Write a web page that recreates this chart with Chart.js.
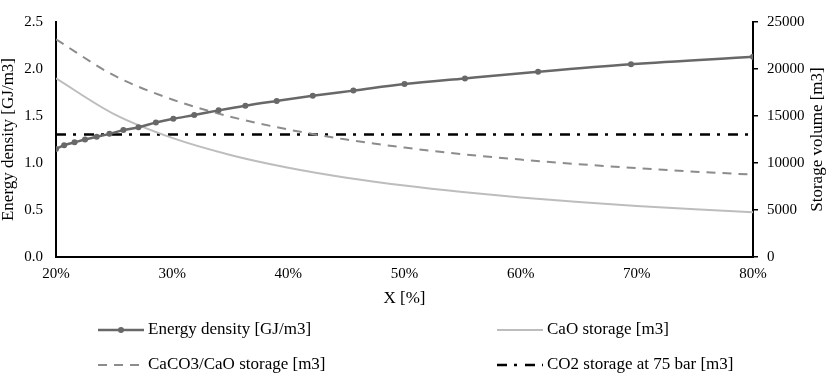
<!DOCTYPE html>
<html>
<head>
<meta charset="utf-8">
<script src="https://cdn.jsdelivr.net/npm/chart.js@4.4.1/dist/chart.umd.min.js"></script>
<style>
  html, body { margin: 0; padding: 0; background: #fff; }
  #wrap { width: 829px; height: 384px; position: relative; }
</style>
</head>
<body>
<div id="wrap"><canvas id="chartCanvas"></canvas></div>
<script>
// values
const x_ticks = [20, 30, 40, 50, 60, 70, 80];   // X [%]

// energy density markers (left axis, GJ/m3)
const energy_x = [20, 20.7, 21.6, 22.5, 23.5, 24.6, 25.8, 27.1, 28.6, 30.1, 31.9,
                  34.0, 36.3, 39.0, 42.1, 45.6, 50.0, 55.2, 61.5, 69.5, 80];
const energy_y = [1.15, 1.19, 1.22, 1.25, 1.28, 1.31, 1.35, 1.38, 1.43, 1.47, 1.51,
                  1.56, 1.61, 1.66, 1.715, 1.77, 1.84, 1.90, 1.97, 2.05, 2.13];

// storage curves (right axis, m3)
const storage_x = [20, 25, 30, 35, 40, 45, 50, 55, 60, 65, 70, 75, 80];
const cao_storage = [19000, 15200, 12670, 10860, 9500, 8440, 7600, 6910, 6330, 5850, 5430, 5070, 4750];
const caco3_storage = [23150, 19310, 16760, 14930, 13560, 12490, 11640, 10940, 10360, 9870, 9450, 9080, 8760];
const co2_x = [20, 80];
const co2_storage = [13030, 13030];

const labels = ["Energy density [GJ/m3]", "CaO storage [m3]",
                "CaCO3/CaO storage [m3]", "CO2 storage at 75 bar [m3]"];

const FONT = "'Liberation Serif', 'Times New Roman', serif";

function toPoints(xs, ys) {
    return xs.map((x, i) => ({x: x, y: ys[i]}));
}

const datasets = [
    {
        label: labels[0],
        data: toPoints(energy_x, energy_y),
        yAxisID: 'y',
        borderColor: '#686868',
        backgroundColor: '#686868',
        borderWidth: 2.5,
        pointRadius: 3,
        pointBorderWidth: 0,
        cubicInterpolationMode: 'monotone',
        order: 0
    },
    {
        label: labels[1],
        data: toPoints(storage_x, cao_storage),
        yAxisID: 'y2',
        borderColor: '#bdbdbd',
        borderWidth: 2,
        pointRadius: 0,
        cubicInterpolationMode: 'monotone',
        order: 1
    },
    {
        label: labels[2],
        data: toPoints(storage_x, caco3_storage),
        yAxisID: 'y2',
        borderColor: '#8c8c8c',
        borderWidth: 2,
        borderDash: [9, 7],
        pointRadius: 0,
        cubicInterpolationMode: 'monotone',
        order: 2
    },
    {
        label: labels[3],
        data: toPoints(co2_x, co2_storage),
        yAxisID: 'y2',
        borderColor: '#000000',
        borderWidth: 2.5,
        borderDash: [10, 7, 3, 8],
        pointRadius: 0,
        order: 3
    }
];

// legend drawn in a 2x2 grid like the original, plus the right axis title
const extrasPlugin = {
    id: 'extras',
    afterDraw(chart) {
        const ctx = chart.ctx;
        ctx.save();
        ctx.font = "17px " + FONT;
        ctx.fillStyle = '#000';
        ctx.textBaseline = 'middle';

        // right axis title, rotated like the left one
        let area = chart.chartArea;
        ctx.save();
        ctx.translate(818, (area.top + area.bottom) / 2);
        ctx.rotate(-Math.PI / 2);
        ctx.textAlign = 'center';
        ctx.fillText("Storage volume [m3]", 0, 0);
        ctx.restore();

        const cells = [
            {x: 98, y: 330}, {x: 497, y: 330},
            {x: 98, y: 365}, {x: 497, y: 365}
        ];
        chart.data.datasets.forEach((ds, i) => {
            let c = cells[i];
            ctx.save();
            ctx.strokeStyle = ds.borderColor;
            ctx.lineWidth = ds.borderWidth;
            ctx.setLineDash(ds.borderDash || []);
            ctx.beginPath();
            ctx.moveTo(c.x, c.y);
            ctx.lineTo(c.x + 46, c.y);
            ctx.stroke();
            if (ds.pointRadius > 0) {
                ctx.fillStyle = ds.backgroundColor;
                ctx.beginPath();
                ctx.arc(c.x + 23, c.y, ds.pointRadius, 0, Math.PI * 2);
                ctx.fill();
            }
            ctx.restore();
            ctx.textAlign = 'left';
            ctx.fillText(ds.label, c.x + 50, c.y);
        });
        ctx.restore();
    }
};

Chart.defaults.font.family = FONT;
Chart.defaults.color = '#000';

const chart = new Chart(document.getElementById('chartCanvas').getContext('2d'), {
    type: 'line',
    data: { datasets: datasets },
    options: {
        responsive: true,
        maintainAspectRatio: false,
        animation: false,
        layout: { padding: { left: 0, right: 0, top: 7, bottom: 71 } },
        plugins: {
            legend: { display: false },
            tooltip: { enabled: false }
        },
        scales: {
            x: {
                type: 'linear',
                min: 20,
                max: 80,
                afterFit: (scale) => { scale.height = 56; },
                afterBuildTicks: (scale) => { scale.ticks = x_ticks.map(v => ({value: v})); },
                ticks: {
                    font: { size: 15 },
                    padding: 8,
                    maxRotation: 0,
                    callback: (v) => v + '%'
                },
                grid: { display: false, drawTicks: false },
                border: { display: true, color: '#000', width: 2 },
                title: {
                    display: true,
                    text: 'X [%]',
                    font: { size: 17, lineHeight: 1.2 },
                    padding: { top: 0, bottom: 4 }
                }
            },
            y: {
                position: 'left',
                min: 0,
                max: 2.5,
                afterFit: (scale) => { scale.width = 56; },
                ticks: {
                    stepSize: 0.5,
                    font: { size: 15 },
                    padding: 13,
                    callback: (v) => v.toFixed(1)
                },
                grid: { display: false, drawTicks: false },
                border: { display: true, color: '#000', width: 2 },
                title: {
                    display: true,
                    text: 'Energy density [GJ/m3]',
                    font: { size: 17, lineHeight: 1.0 },
                    padding: { top: 0, bottom: 0 }
                }
            },
            y2: {
                position: 'right',
                min: 0,
                max: 25000,
                afterFit: (scale) => { scale.width = 76; },
                ticks: {
                    stepSize: 5000,
                    font: { size: 15 },
                    padding: 9,
                    callback: (v) => String(v)
                },
                grid: {
                    drawOnChartArea: false,
                    drawTicks: true,
                    tickLength: 5,
                    color: '#000',
                    lineWidth: 1.5
                },
                border: { display: true, color: '#000', width: 2 }
            }
        }
    },
    plugins: [extrasPlugin]
});
</script>
</body>
</html>
